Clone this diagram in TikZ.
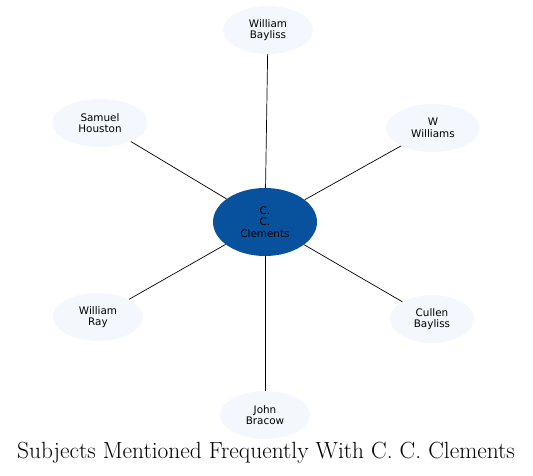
\documentclass[tikz,border=0pt]{standalone}
\usepackage{fontspec}
\newfontfamily\labelfont{DejaVu Sans}
\usetikzlibrary{shapes.geometric}
\definecolor{hubblue}{HTML}{08519C}
\definecolor{leafblue}{HTML}{F4F8FE}
\begin{document}
\begin{tikzpicture}[x=1pt, y=-1pt,
    leaf/.style={ellipse, fill=leafblue, minimum width=90pt, minimum height=48pt, inner sep=0pt, align=center, font=\labelfont\fontsize{10.4}{11.5}\selectfont},
    hub/.style={ellipse, fill=hubblue, minimum width=104pt, minimum height=68pt, inner sep=0pt, align=center, font=\labelfont\fontsize{10.4}{11.5}\selectfont},
    link/.style={draw=black, line width=0.7pt}]
    \useasboundingbox (0,0) rectangle (533,476);
    \node[hub] (clements) at (265,222) {C.\\C.\\Clements};
    \node[leaf] (wbayliss) at (268,30) {William\\Bayliss};
    \node[leaf, minimum width=96pt] (houston) at (100,123) {Samuel\\Houston};
    \node[leaf, minimum width=94pt] (williams) at (433,128) {W\\Williams};
    \node[leaf] (ray) at (98,317) {William\\Ray};
    \node[leaf, minimum width=84pt] (cbayliss) at (432,319) {Cullen\\Bayliss};
    \node[leaf] (bracow) at (265,415) {John\\Bracow};
    \draw[link] (clements) -- (wbayliss);
    \draw[link] (clements) -- (houston);
    \draw[link] (clements) -- (williams);
    \draw[link] (clements) -- (ray);
    \draw[link] (clements) -- (cbayliss);
    \draw[link] (clements) -- (bracow);
    \node[font=\fontsize{23.4}{27}\selectfont] (title) at (266,453) {Subjects Mentioned Frequently With C. C. Clements};
\end{tikzpicture}
\end{document}
